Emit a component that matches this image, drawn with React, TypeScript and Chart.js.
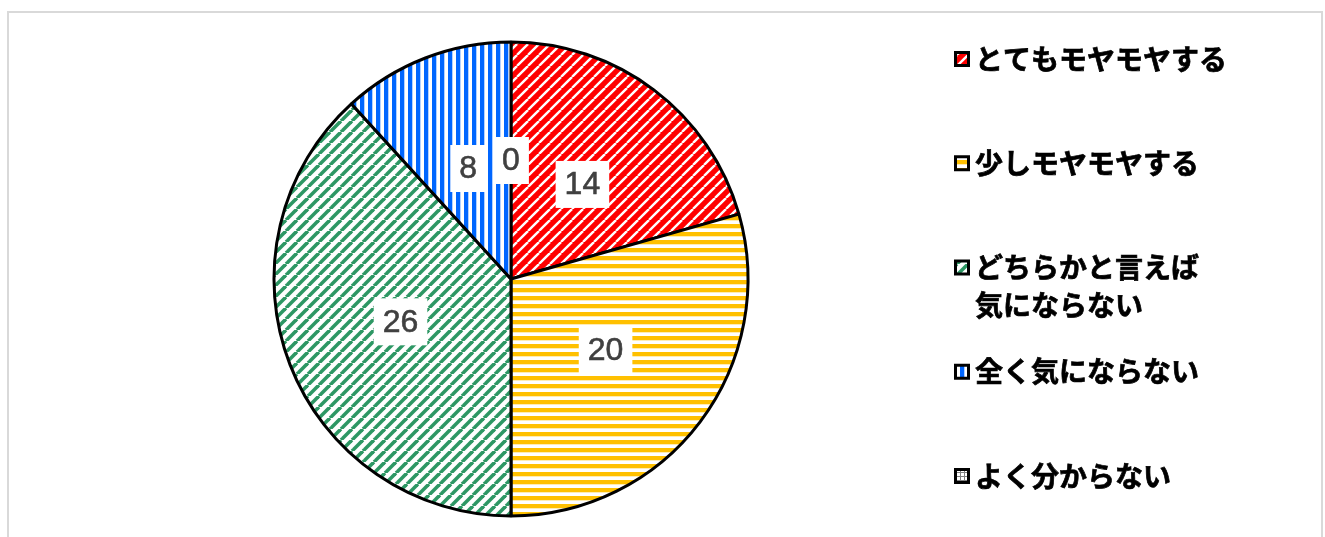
import React, { useEffect, useRef } from "react";
import { Chart, registerables } from "chart.js";

Chart.register(...registerables);

// ---- data ----
const categories: string[][] = [
  ["とてもモヤモヤする"],
  ["少しモヤモヤする"],
  ["どちらかと言えば", "気にならない"],
  ["全く気にならない"],
  ["よく分からない"],
];
const values: number[] = [14, 20, 26, 8, 0];
const colors: string[] = ["#FF0000", "#FFC000", "#2D9764", "#0066FF", "#7F7F7F"];
const patternKinds: string[] = ["diagSolid", "hlines", "diagThin", "vlines", "grid"];

function makePattern(ctx: CanvasRenderingContext2D, kind: string, color: string): CanvasPattern | string {
  const tile = document.createElement("canvas");
  let s = 8;
  if (kind === "diagSolid" || kind === "diagThin") s = 11;
  if (kind === "grid") s = 4;
  tile.width = s;
  tile.height = s;
  const t = tile.getContext("2d")!;
  if (kind === "diagSolid" || kind === "diagThin") {
    t.fillStyle = kind === "diagSolid" ? color : "#FFFFFF";
    t.fillRect(0, 0, s, s);
    t.strokeStyle = kind === "diagSolid" ? "#FFFFFF" : color;
    t.lineWidth = kind === "diagSolid" ? 2.4 : 3.6;
    for (const k of [-s, 0, s]) {
      t.beginPath();
      t.moveTo(k, s);
      t.lineTo(k + s, 0);
      t.stroke();
    }
  } else if (kind === "hlines") {
    t.fillStyle = "#FFFFFF";
    t.fillRect(0, 0, s, s);
    t.fillStyle = color;
    t.fillRect(0, 0, s, 4.3);
  } else if (kind === "vlines") {
    t.fillStyle = "#FFFFFF";
    t.fillRect(0, 0, s, s);
    t.fillStyle = color;
    t.fillRect(0, 0, 4.3, s);
  } else {
    t.fillStyle = "#FFFFFF";
    t.fillRect(0, 0, s, s);
    t.fillStyle = color;
    t.fillRect(0, 0, s, 1);
    t.fillRect(0, 0, 1, s);
  }
  return ctx.createPattern(tile, "repeat") || color;
}

export default function App() {
  const ref = useRef<HTMLCanvasElement | null>(null);

  useEffect(() => {
    const canvas = ref.current;
    if (!canvas) return;
    const ctx = canvas.getContext("2d")!;
    const patterns = values.map((_, i) => makePattern(ctx, patternKinds[i], colors[i]));

    const labelPlugin = {
      id: "valueLabels",
      afterDatasetsDraw(chart: any) {
        const c = chart.ctx as CanvasRenderingContext2D;
        const meta = chart.getDatasetMeta(0);
        meta.data.forEach((arc: any, i: number) => {
          const { x, y, startAngle, endAngle, outerRadius } = arc.getProps(
            ["x", "y", "startAngle", "endAngle", "outerRadius"],
            true
          );
          const mid = (startAngle + endAngle) / 2;
          const r = outerRadius * 0.5;
          const lx = x + Math.cos(mid) * r;
          const ly = y + Math.sin(mid) * r;
          const text = String(values[i]);
          c.save();
          c.font = "32px 'Liberation Sans', Arial, sans-serif";
          const w = c.measureText(text).width + 18;
          const h = 47;
          c.fillStyle = "#FFFFFF";
          c.fillRect(lx - w / 2, ly - h / 2, w, h);
          c.fillStyle = "#404040";
          c.textAlign = "center";
          c.textBaseline = "middle";
          c.lineWidth = 0.6;
          c.strokeStyle = "#404040";
          c.fillText(text, lx, ly + 1);
          c.strokeText(text, lx, ly + 1);
          c.restore();
        });
      },
    };

    const legendPlugin = {
      id: "customLegend",
      afterDraw(chart: any) {
        const c = chart.ctx as CanvasRenderingContext2D;
        c.save();
        categories.forEach((lines, i) => {
          const cy = 59 + i * 104.25;
          // marker
          c.fillStyle = "#000000";
          c.fillRect(954, cy - 8, 16, 16);
          c.fillStyle = patterns[i] as any;
          c.fillRect(957, cy - 5, 10, 10);
          // text
          c.fillStyle = "#000000";
          c.strokeStyle = "#000000";
          c.lineWidth = 0.7;
          c.font = "bold 28px 'Noto Sans CJK JP', sans-serif";
          c.textAlign = "left";
          c.textBaseline = "middle";
          lines.forEach((ln, j) => {
            c.fillText(ln, 975, cy + j * 38);
            c.strokeText(ln, 975, cy + j * 38);
          });
        });
        c.restore();
      },
    };

    const chart = new Chart(canvas, {
      type: "pie",
      data: {
        labels: categories.map((l) => l.join("")),
        datasets: [
          {
            data: values,
            backgroundColor: patterns as any,
            borderColor: "#000000",
            borderWidth: 3,
          },
        ],
      },
      options: {
        animation: false,
        responsive: false,
        events: [],
        layout: { padding: { left: 272.5, right: 575.5, top: 40.5, bottom: 19.5 } },
        plugins: {
          legend: { display: false },
          tooltip: { enabled: false },
        },
      },
      plugins: [labelPlugin, legendPlugin],
    });
    return () => chart.destroy();
  }, []);

  return (
    <div style={{ position: "absolute", left: 0, top: 0, width: 1325, height: 537, overflow: "hidden", background: "#FFFFFF" }}>
      <div
        style={{
          position: "absolute",
          left: 7,
          top: 11,
          width: 1316,
          height: 600,
          border: "2px solid #D9D9D9",
          boxSizing: "border-box",
        }}
      />
      <canvas ref={ref} width={1325} height={537} style={{ position: "absolute", left: 0, top: 0, display: "block" }} />
    </div>
  );
}
